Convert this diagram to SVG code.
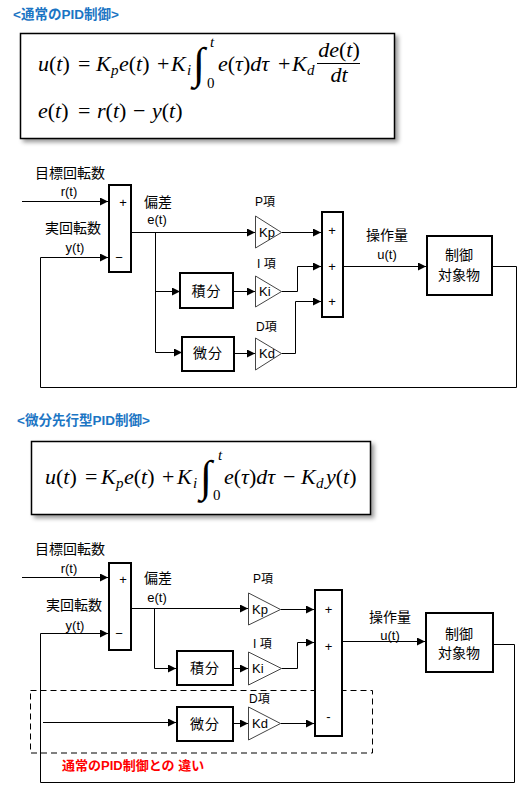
<svg xmlns="http://www.w3.org/2000/svg" width="524" height="792" viewBox="0 0 524 792">
<style>
.t{font-family:"Liberation Sans","Noto Sans CJK JP",sans-serif;font-size:14px;fill:#000}
.s{font-size:13px}
.sm{font-size:12px}
.title{font-family:"Liberation Sans","Noto Sans CJK JP",sans-serif;font-size:13.5px;font-weight:bold;fill:#1B75C4}
.red{font-family:"Liberation Sans","Noto Sans CJK JP",sans-serif;font-size:13px;font-weight:bold;fill:#FF0000}
.m{font-family:"Liberation Serif","DejaVu Serif",serif;font-size:22px;fill:#000}
.i{font-style:italic}
.sub{font-size:15px}
.blk{fill:#fff;stroke:#000;stroke-width:2}
.tri{fill:#fff;stroke:#444;stroke-width:1}
.fbox{fill:#fff;stroke:#000;stroke-width:1.5}
.ln{fill:none;stroke:#000;stroke-width:1}
.arr{marker-end:url(#ah)}
.c{text-anchor:middle}
</style>
<defs>
<marker id="ah" viewBox="0 0 10 10" refX="10" refY="5" markerWidth="9" markerHeight="8" markerUnits="userSpaceOnUse" orient="auto"><path d="M0,0 L10,5 L0,10 Z" fill="#000"/></marker>
<filter id="sh" x="-5%" y="-5%" width="115%" height="125%"><feDropShadow dx="3" dy="3" stdDeviation="2" flood-color="#000" flood-opacity="0.4"/></filter>
</defs>

<!-- Section 1 -->
<text class="title" x="13" y="19">&lt;通常のPID制御&gt;</text>
<g id="formula1">
<rect class="fbox" x="20.5" y="33.5" width="374" height="105" filter="url(#sh)"/>
<text class="m" x="38" y="71"><tspan class="i">u</tspan>(<tspan class="i">t</tspan>)</text>
<text class="m" x="78" y="71">=</text>
<text class="m i" x="96" y="71">K</text><text class="m i sub" x="111" y="75">p</text>
<text class="m" x="119" y="71"><tspan class="i">e</tspan>(<tspan class="i">t</tspan>)</text>
<text class="m" x="157" y="71">+</text>
<text class="m i" x="171" y="71">K</text><text class="m i sub" x="187" y="75">i</text>
<text class="m" x="193" y="78" style="font-size:44px">∫</text>
<text class="m i sub" x="210" y="47">t</text>
<text class="m sub" x="207" y="88">0</text>
<text class="m" x="218" y="71"><tspan class="i">e</tspan>(<tspan class="i">τ</tspan>)<tspan class="i">dτ</tspan></text>
<text class="m" x="278" y="71">+</text>
<text class="m i" x="292" y="71">K</text><text class="m i sub" x="307" y="75">d</text>
<text class="m c" x="339" y="57"><tspan class="i">de</tspan>(<tspan class="i">t</tspan>)</text>
<line x1="317" y1="63.5" x2="360" y2="63.5" stroke="#000" stroke-width="1"/>
<text class="m c i" x="339" y="82">dt</text>
<text class="m" x="38" y="118"><tspan class="i">e</tspan>(<tspan class="i">t</tspan>)</text>
<text class="m" x="78" y="118">=</text>
<text class="m" x="97" y="118"><tspan class="i">r</tspan>(<tspan class="i">t</tspan>)</text>
<text class="m" x="133" y="118">−</text>
<text class="m" x="152" y="118"><tspan class="i">y</tspan>(<tspan class="i">t</tspan>)</text>
</g>

<g id="connectors1">
<path class="ln arr" d="M22,201.5 H108"/>
<path class="ln arr" d="M492,266.5 H516.5 V387.5 H40.5 V257.5 H108"/>
<path class="ln arr" d="M131,232.5 H255"/>
<path class="ln" d="M155.5,232.5 V352.5"/>
<path class="ln arr" d="M155.5,291.5 H180"/>
<path class="ln arr" d="M155.5,352.5 H182"/>
<path class="ln arr" d="M233,291.5 H255"/>
<path class="ln arr" d="M234,353.5 H255"/>
<path class="ln arr" d="M281.5,232.5 H321"/>
<path class="ln arr" d="M281.5,291.5 H297.5 V266.5 H321"/>
<path class="ln arr" d="M281.5,353.5 H295.5 V301.5 H321"/>
<path class="ln arr" d="M343,266.5 H426"/>
</g>

<g id="labels1">
<text class="t" x="35" y="178">目標回転数</text>
<text class="t s c" x="69" y="196">r(t)</text>
<text class="t" x="45" y="233">実回転数</text>
<text class="t s c" x="75" y="252">y(t)</text>
<text class="t" x="144" y="207">偏差</text>
<text class="t s c" x="157" y="224">e(t)</text>
<text class="t sm" x="255" y="206">P項</text>
<text class="t sm" x="257" y="268">I 項</text>
<text class="t sm" x="256" y="331">D項</text>
<text class="t c" x="387" y="240">操作量</text>
<text class="t s c" x="387" y="259">u(t)</text>
</g>

<g id="sum1a"><rect class="blk" x="109" y="185" width="22" height="87"/>
<text class="t s c" x="123" y="207">+</text><text class="t s c" x="119" y="262">−</text></g>
<g id="integ1"><rect class="blk" x="180" y="273" width="53" height="35"/><text class="t c" x="206.5" y="296" letter-spacing="1">積分</text></g>
<g id="deriv1"><rect class="blk" x="182" y="337" width="52" height="34"/><text class="t c" x="208" y="358" letter-spacing="1">微分</text></g>
<g id="kp1"><path class="tri" d="M255.5,216 L281.5,232.5 L255.5,248 Z"/><text class="t s" x="259" y="237">Kp</text></g>
<g id="ki1"><path class="tri" d="M255.5,276 L281.5,291.5 L255.5,307 Z"/><text class="t s" x="259" y="296">Ki</text></g>
<g id="kd1"><path class="tri" d="M255.5,338 L281.5,353.5 L255.5,370 Z"/><text class="t s" x="259" y="358">Kd</text></g>
<g id="sum1b"><rect class="blk" x="322" y="212" width="21" height="105"/>
<text class="t s c" x="332" y="235">+</text><text class="t s c" x="332" y="271">+</text><text class="t s c" x="332" y="306">+</text></g>
<g id="plant1"><rect class="blk" x="427" y="236" width="65" height="59"/>
<text class="t c" x="459" y="260">制御</text><text class="t c" x="459" y="280">対象物</text></g>

<!-- Section 2 -->
<text class="title" x="17" y="425">&lt;微分先行型PID制御&gt;</text>
<g id="formula2">
<rect class="fbox" x="31.5" y="441.5" width="339" height="73" filter="url(#sh)"/>
<text class="m" x="45" y="484"><tspan class="i">u</tspan>(<tspan class="i">t</tspan>)</text>
<text class="m" x="85" y="484">=</text>
<text class="m i" x="101" y="484">K</text><text class="m i sub" x="116" y="488">p</text>
<text class="m" x="124" y="484"><tspan class="i">e</tspan>(<tspan class="i">t</tspan>)</text>
<text class="m" x="162" y="484">+</text>
<text class="m i" x="177" y="484">K</text><text class="m i sub" x="193" y="488">i</text>
<text class="m" x="200" y="491" style="font-size:44px">∫</text>
<text class="m i sub" x="218" y="460">t</text>
<text class="m sub" x="213" y="500">0</text>
<text class="m" x="224" y="484"><tspan class="i">e</tspan>(<tspan class="i">τ</tspan>)<tspan class="i">dτ</tspan></text>
<text class="m" x="283" y="484">−</text>
<text class="m i" x="301" y="484">K</text><text class="m i sub" x="316" y="488">d</text>
<text class="m" x="326" y="484"><tspan class="i">y</tspan>(<tspan class="i">t</tspan>)</text>
</g>

<g id="connectors2">
<path class="ln arr" d="M22,577.5 H108"/>
<path class="ln arr" d="M493,644.5 H514.5 V782.5 H40.5 V633.5 H108"/>
<path class="ln arr" d="M131,608.5 H248"/>
<path class="ln arr" d="M154.5,608.5 V668.5 H176"/>
<path class="ln arr" d="M233,668.5 H248"/>
<path class="ln arr" d="M43,722.5 H176"/>
<path class="ln arr" d="M233,723.5 H248"/>
<path class="ln arr" d="M280.5,609.5 H314"/>
<path class="ln arr" d="M281.5,668.5 H297.5 V642.5 H314"/>
<path class="ln arr" d="M280.5,723.5 H314"/>
<path class="ln arr" d="M342,641.5 H425"/>
</g>

<g id="diffzone">
<rect x="30.5" y="690.5" width="342" height="62.5" fill="none" stroke="#000" stroke-width="1" stroke-dasharray="6,4"/>
<text class="red" x="62" y="770">通常のPID制御との 違い</text>
</g>

<g id="labels2">
<text class="t" x="35" y="554">目標回転数</text>
<text class="t s c" x="69" y="573">r(t)</text>
<text class="t" x="46" y="610">実回転数</text>
<text class="t s c" x="75" y="630">y(t)</text>
<text class="t" x="144" y="583">偏差</text>
<text class="t s c" x="157" y="602">e(t)</text>
<text class="t sm" x="253" y="583">P項</text>
<text class="t sm" x="253" y="648">I 項</text>
<text class="t sm" x="249" y="703">D項</text>
<text class="t c" x="390" y="622">操作量</text>
<text class="t s c" x="390" y="640">u(t)</text>
</g>

<g id="sum2a"><rect class="blk" x="109" y="563" width="22" height="87"/>
<text class="t s c" x="123" y="584">+</text><text class="t s c" x="119" y="638">−</text></g>
<g id="integ2"><rect class="blk" x="177" y="651" width="56" height="34"/><text class="t c" x="205" y="673" letter-spacing="1">積分</text></g>
<g id="deriv2"><rect class="blk" x="177" y="707" width="56" height="34"/><text class="t c" x="205" y="729" letter-spacing="1">微分</text></g>
<g id="kp2"><path class="tri" d="M248.5,593 L280.5,609.5 L248.5,625 Z"/><text class="t s" x="252" y="614">Kp</text></g>
<g id="ki2"><path class="tri" d="M248.5,652 L281.5,668.5 L248.5,685 Z"/><text class="t s" x="252" y="673">Ki</text></g>
<g id="kd2"><path class="tri" d="M248.5,707 L280.5,723.5 L248.5,740 Z"/><text class="t s" x="252" y="728">Kd</text></g>
<g id="sum2b"><rect class="blk" x="315" y="590" width="27" height="146"/>
<text class="t s c" x="328.5" y="614">+</text><text class="t s c" x="328.5" y="651">+</text><text class="t s c" x="328.5" y="721">-</text></g>
<g id="plant2"><rect class="blk" x="426" y="613" width="67" height="59"/>
<text class="t c" x="459" y="639">制御</text><text class="t c" x="459" y="658">対象物</text></g>
</svg>
